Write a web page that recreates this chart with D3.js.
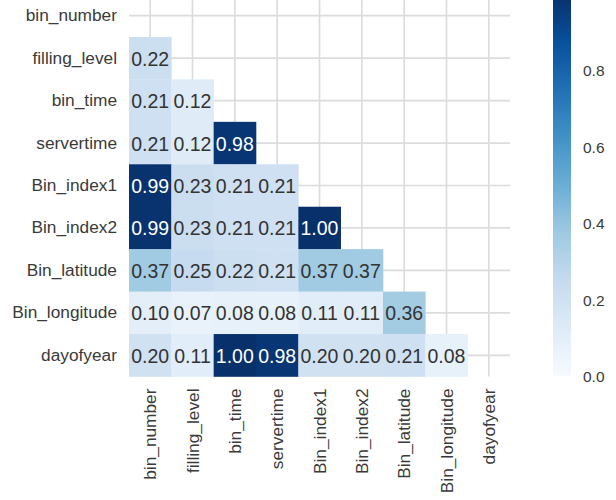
<!DOCTYPE html>
<html>
<head>
<meta charset="utf-8">
<script src="https://cdn.jsdelivr.net/npm/d3@7/dist/d3.min.js"></script>
<style>
  html, body { margin: 0; padding: 0; background: #ffffff; }
  svg { display: block; }
  text { font-family: "Liberation Sans", Arial, sans-serif; }
</style>
</head>
<body>
<svg id="chart" width="616" height="500"></svg>
<script>
// Variable names (rows and columns share the same order)
const variables = ["bin_number", "filling_level", "bin_time", "servertime",
  "Bin_index1", "Bin_index2", "Bin_latitude", "Bin_longitude", "dayofyear"];

// Lower-triangle correlation values, one array per row (row i has i entries)
const corrRows = [
  [],
  [0.22],
  [0.21, 0.12],
  [0.21, 0.12, 0.98],
  [0.99, 0.23, 0.21, 0.21],
  [0.99, 0.23, 0.21, 0.21, 1.00],
  [0.37, 0.25, 0.22, 0.21, 0.37, 0.37],
  [0.10, 0.07, 0.08, 0.08, 0.11, 0.11, 0.36],
  [0.20, 0.11, 1.00, 0.98, 0.20, 0.20, 0.21, 0.08]
];

// Colour bar tick values
const colorbarTicks = [0.0, 0.2, 0.4, 0.6, 0.8];

// Blues colour ramp (nine-stop sequential scheme)
const bluesStops = ["#f7fbff", "#deebf7", "#c6dbef", "#9ecae1", "#6baed6",
  "#4292c6", "#2171b5", "#08519c", "#08306b"];

const cells = [];
corrRows.forEach((row, i) => row.forEach((v, j) => cells.push({ row: variables[i], col: variables[j], value: v })));

const svg = d3.select("#chart");

const plot = { left: 129, right: 510, top: -5.5, bottom: 376.5 };
const cbar = { left: 553, right: 571 };

const x = d3.scaleBand().domain(variables).range([plot.left, plot.right]);
const y = d3.scaleBand().domain(variables).range([plot.top, plot.bottom]);

const color = d3.scaleLinear()
  .domain(d3.range(bluesStops.length).map(k => k / (bluesStops.length - 1)))
  .range(bluesStops)
  .interpolate(d3.interpolateRgb)
  .clamp(true);

// Grid lines through the tick centres, beneath the cells
const grid = svg.append("g").attr("stroke", "#dcdcdc").attr("stroke-width", 1.7);
grid.selectAll("line.v").data(variables).join("line")
  .attr("class", "v")
  .attr("x1", d => x(d) + x.bandwidth() / 2).attr("x2", d => x(d) + x.bandwidth() / 2)
  .attr("y1", plot.top).attr("y2", plot.bottom);
grid.selectAll("line.h").data(variables).join("line")
  .attr("class", "h")
  .attr("y1", d => y(d) + y.bandwidth() / 2).attr("y2", d => y(d) + y.bandwidth() / 2)
  .attr("x1", plot.left).attr("x2", plot.right);

// Heatmap cells
svg.append("g").selectAll("rect").data(cells).join("rect")
  .attr("x", d => x(d.col))
  .attr("y", d => y(d.row))
  .attr("width", x.bandwidth() + 0.3)
  .attr("height", y.bandwidth() + 0.3)
  .attr("fill", d => color(d.value));

// Annotation text colour chosen from the cell's luminance
function textColor(v) {
  const c = d3.rgb(color(v));
  const lin = ch => { ch /= 255; return ch <= 0.03928 ? ch / 12.92 : Math.pow((ch + 0.055) / 1.055, 2.4); };
  const lum = 0.2126 * lin(c.r) + 0.7152 * lin(c.g) + 0.0722 * lin(c.b);
  return lum > 0.408 ? "#333333" : "#ffffff";
}

svg.append("g").selectAll("text").data(cells).join("text")
  .attr("x", d => x(d.col) + x.bandwidth() / 2)
  .attr("y", d => y(d.row) + y.bandwidth() / 2 + 0.5)
  .attr("text-anchor", "middle")
  .attr("dominant-baseline", "central")
  .attr("font-size", 19.5)
  .attr("fill", d => textColor(d.value))
  .text(d => d3.format(".2f")(d.value));

// Row labels
const yAxis = d3.axisLeft(y).tickSize(0).tickPadding(12);
const gy = svg.append("g").attr("transform", `translate(${plot.left},0)`).call(yAxis);
gy.select(".domain").remove();
gy.selectAll("text").attr("font-size", 17.3).attr("fill", "#3a3a3a")
  .attr("font-family", "Liberation Sans, Arial, sans-serif");

// Column labels, rotated
const xAxis = d3.axisBottom(x).tickSize(0).tickPadding(8);
const gx = svg.append("g").attr("transform", `translate(0,${plot.bottom})`).call(xAxis);
gx.select(".domain").remove();
gx.selectAll("text")
  .attr("font-size", 17.3).attr("fill", "#3a3a3a")
  .attr("font-family", "Liberation Sans, Arial, sans-serif")
  .attr("transform", "rotate(-90)")
  .attr("text-anchor", "end")
  .attr("dy", "0.35em")
  .attr("x", -12).attr("y", 0);

// Colour bar
const cbScale = d3.scaleLinear().domain([0, 1]).range([plot.bottom, plot.top]);
const defs = svg.append("defs");
const grad = defs.append("linearGradient").attr("id", "cbGrad")
  .attr("x1", 0).attr("y1", 1).attr("x2", 0).attr("y2", 0);
grad.selectAll("stop").data(d3.range(0, 1.0001, 0.02)).join("stop")
  .attr("offset", d => d)
  .attr("stop-color", d => color(d));
svg.append("rect")
  .attr("x", cbar.left).attr("y", plot.top)
  .attr("width", cbar.right - cbar.left).attr("height", plot.bottom - plot.top)
  .attr("fill", "url(#cbGrad)");

const cbAxis = d3.axisRight(cbScale).tickValues(colorbarTicks).tickFormat(d3.format(".1f")).tickSize(0).tickPadding(12);
const gc = svg.append("g").attr("transform", `translate(${cbar.right},0)`).call(cbAxis);
gc.select(".domain").remove();
gc.selectAll("text").attr("font-size", 15.5).attr("fill", "#3a3a3a")
  .attr("font-family", "Liberation Sans, Arial, sans-serif");
</script>
</body>
</html>
